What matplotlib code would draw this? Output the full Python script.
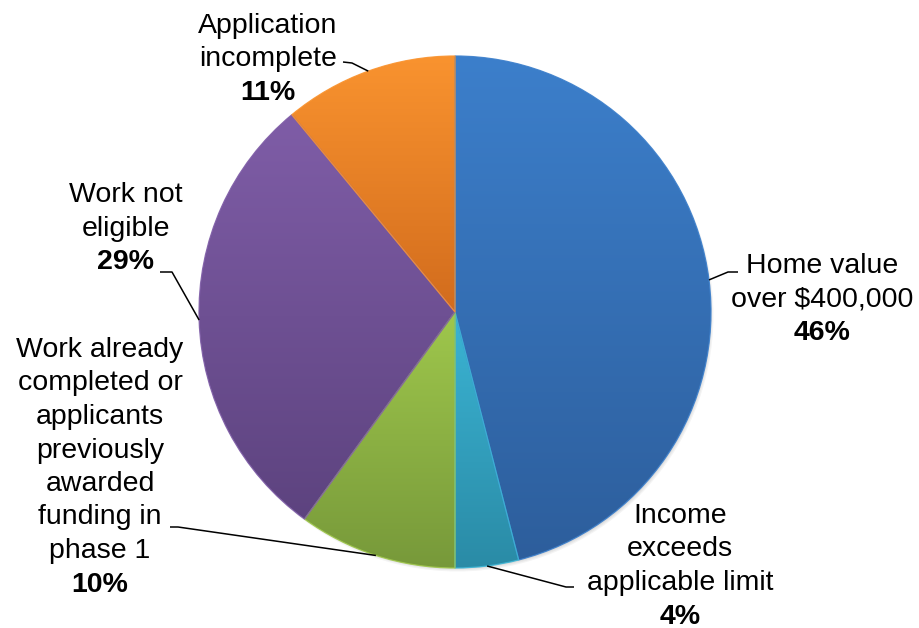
#!/usr/bin/env python3
"""Pie chart of ineligibility reasons with gradient-filled slices."""
import numpy as np
import matplotlib
matplotlib.use('Agg')
import matplotlib.pyplot as plt
from matplotlib.patches import Circle

# data, clockwise from 12 o'clock
labels = ["Home value\nover $400,000",
          "Income\nexceeds\napplicable limit",
          "Work already\ncompleted or\napplicants\npreviously\nawarded\nfunding in\nphase 1",
          "Work not\neligible",
          "Application\nincomplete"]
shares = [46, 4, 10, 29, 11]
pct_labels = ["46%", "4%", "10%", "29%", "11%"]

# gradient (top colour, bottom colour) per slice
top_colors = ["#3C7FCB", "#3BB4D4", "#9FC74C", "#7F5DA7", "#F9932F"]
bot_colors = ["#2D5E9C", "#2A8BA6", "#77993A", "#5D437F", "#D26C1D"]

W, H = 919, 628
CX, CY, R = 455, H - 312, 256
LINE = 33.5   # line spacing in px

# label layout: text centre x, baseline of the first line (px from top),
# leader: point next to the text, elbow point
label_pos = [(822, 273), (680, 523), (100, 357), (126, 202), (268, 33)]
leaders = [((738, 272), (728, 272)),
           ((574, 587), (566, 587)),
           ((170, 527), (178, 527)),
           ((160, 272), (172, 272)),
           ((343, 62), (352, 63))]

plt.rcParams['font.family'] = ['Liberation Sans', 'DejaVu Sans']

fig = plt.figure(figsize=(W / 100, H / 100), dpi=100)
ax = fig.add_axes([0, 0, 1, 1])

# soft shadow towards the lower right
for k in range(4):
    ax.add_patch(Circle((CX + 2.5, CY - 3.5), R - k * 1.2, color='black',
                        alpha=0.045, lw=0, zorder=0))

wedges, _ = ax.pie(shares, startangle=90, counterclock=False,
                   center=(CX, CY), radius=R, frame=False,
                   wedgeprops=dict(linewidth=0.9))

for w, c1, c2 in zip(wedges, top_colors, bot_colors):
    ext = w.get_path().get_extents()
    c1 = np.array(matplotlib.colors.to_rgb(c1))
    c2 = np.array(matplotlib.colors.to_rgb(c2))
    t = np.linspace(0, 1, 256)[:, None]
    grad = (c1 * (1 - t) + c2 * t)[:, None, :]
    im = ax.imshow(grad, extent=[ext.x0, ext.x1, ext.y0, ext.y1],
                   origin='upper', aspect='auto', zorder=1,
                   interpolation='bilinear')
    im.set_clip_path(w)
    w.set_facecolor('none')
    w.set_edgecolor(matplotlib.colors.to_rgba(c1, 0.9))
    w.set_zorder(2)

for w, lab, pct, (tx, ty), (p_end, p_elb) in zip(wedges, labels, pct_labels,
                                                   label_pos, leaders):
    mid = np.deg2rad((w.theta1 + w.theta2) / 2)
    ex, ey = CX + R * np.cos(mid), CY + R * np.sin(mid)
    ax.plot([p_end[0], p_elb[0], ex], [H - p_end[1], H - p_elb[1], ey],
            color='black', lw=1.1, zorder=3, solid_capstyle='butt')
    lines = lab.split("\n")
    for i, s in enumerate(lines):
        ax.text(tx, H - (ty + i * LINE), s, ha='center', va='baseline',
                fontsize=20.5, color='black', zorder=4)
    ax.text(tx, H - (ty + len(lines) * LINE), pct, ha='center', va='baseline',
            fontsize=20.5, fontweight='bold', color='black', zorder=4)

ax.set_xlim(0, W)
ax.set_ylim(0, H)
ax.set_aspect('auto')
ax.axis('off')

fig.savefig('out.png', dpi=100)
